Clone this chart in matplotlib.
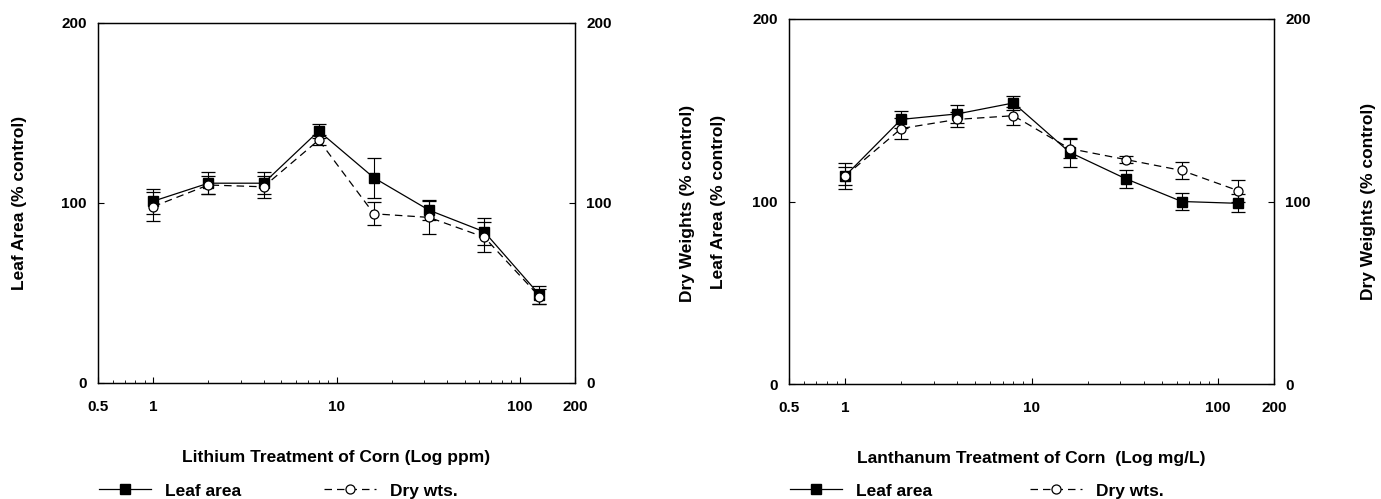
#!/usr/bin/env python3
"""
Leaf area and dry weight of corn (% control) vs. log treatment concentration,
Lithium (left) and Lanthanum (right).
"""
import matplotlib
matplotlib.use("Agg")
import matplotlib.pyplot as plt
from matplotlib.lines import Line2D
from matplotlib.ticker import FixedLocator, NullFormatter

plt.rcParams['font.family'] = ['Liberation Sans', 'DejaVu Sans']
plt.rcParams['font.weight'] = 'bold'

# concentrations (ppm for Li, mg/L for La)
x_conc = [1, 2, 4, 8, 16, 32, 64, 128]

li_leaf = [101, 111, 111, 140, 114, 96, 84, 49]
li_leaf_err = [7, 6, 6, 4, 11, 5.5, 7.5, 5]
li_dry = [98, 110, 109, 135, 94, 92, 81, 48]
li_dry_err = [8, 5, 6, 3, 6.5, 9, 8.5, 4]

la_leaf = [114, 145, 148, 154, 127, 112.5, 100, 99]
la_leaf_err = [7, 4.5, 5, 4, 8, 5, 4.5, 5]
la_dry = [114, 140, 145, 147, 129, 123, 117, 106]
la_dry_err = [5, 6, 4, 5, 5, 2, 4.5, 6]

x_ticks = [0.5, 1, 10, 100, 200]
x_ticklabels = ['0.5', '1', '10', '100', '200']
y_ticks = [0, 100, 200]

TICK_FS = 11
LABEL_FS = 12.5
LEG_FS = 12.5
W, H = 1381, 499

LEAF_STYLE = dict(color='black', marker='s', mfc='black', mec='black',
                  ms=6.5, lw=0.9)
DRY_STYLE = dict(color='black', marker='o', mfc='white', mec='black',
                 ms=6.5, mew=0.9, lw=0.9, ls='--', dashes=(6, 4))


def add_legend(fig, x_px, handle, label):
    leg = fig.legend([handle], [label], loc='center left',
                     bbox_to_anchor=(x_px / W, 1 - 491 / H), frameon=False,
                     fontsize=LEG_FS, handlelength=3.0, handletextpad=0.8,
                     borderpad=0, borderaxespad=0)
    for t in leg.get_texts():
        t.set_fontweight('bold')


def draw_panel(fig, rect, leaf, leaf_err, dry, dry_err, xlabel,
               ylab_left_x, ylab_right_x, leg_leaf_x, leg_dry_x):
    ax = fig.add_axes(rect)
    ax2 = ax.twinx()

    ax.errorbar(x_conc, leaf, yerr=leaf_err, elinewidth=0.8, capsize=5,
                capthick=0.9, zorder=3, **LEAF_STYLE)
    ax2.errorbar(x_conc, dry, yerr=dry_err, elinewidth=0.8, capsize=5,
                 capthick=0.9, zorder=3, **DRY_STYLE)

    ax.set_xscale('log')
    ax.set_xlim(0.5, 200)
    for a in (ax, ax2):
        a.set_ylim(0, 200)
        a.set_yticks(y_ticks)
        a.tick_params(axis='y', direction='in', length=4, width=0.8,
                      labelsize=TICK_FS, pad=8)
    ax.xaxis.set_major_locator(FixedLocator(x_ticks))
    ax.set_xticklabels(x_ticklabels)
    minors = [m * d for d in (0.1, 1, 10, 100) for m in range(2, 10)
              if 0.5 < m * d < 200]
    ax.xaxis.set_minor_locator(FixedLocator(minors))
    ax.xaxis.set_minor_formatter(NullFormatter())
    ax.tick_params(axis='x', which='major', direction='in', length=4,
                   width=0.8, labelsize=TICK_FS, pad=12)
    ax.tick_params(axis='x', which='minor', direction='in', length=2,
                   width=0.6)
    ax.tick_params(axis='x', top=False)

    for a in (ax, ax2):
        for s in a.spines.values():
            s.set_linewidth(0.9)

    ax.set_xlabel(xlabel, fontsize=LABEL_FS, fontweight='bold', labelpad=26)
    ax.set_ylabel('Leaf Area (% control)', fontsize=LABEL_FS,
                  fontweight='bold')
    ax.yaxis.set_label_coords(ylab_left_x, 0.5)
    ax2.set_ylabel('Dry Weights (% control)', fontsize=LABEL_FS,
                   fontweight='bold')
    ax2.yaxis.set_label_coords(ylab_right_x, 0.5)

    add_legend(fig, leg_leaf_x, Line2D([], [], **LEAF_STYLE), 'Leaf area')
    add_legend(fig, leg_dry_x, Line2D([], [], **DRY_STYLE), 'Dry wts.')
    return ax


def main():
    fig = plt.figure(figsize=(W / 100, H / 100), dpi=100)

    draw_panel(fig, [98 / W, 1 - 383 / H, 477 / W, 360 / H],
               li_leaf, li_leaf_err, li_dry, li_dry_err,
               'Lithium Treatment of Corn (Log ppm)',
               -0.149, 1.22, 99, 324)
    draw_panel(fig, [789 / W, 1 - 384 / H, 485 / W, 365 / H],
               la_leaf, la_leaf_err, la_dry, la_dry_err,
               'Lanthanum Treatment of Corn  (Log mg/L)',
               -0.13, 1.18, 790, 1030)

    fig.savefig('out.png', dpi=100)
    plt.close(fig)


if __name__ == '__main__':
    main()
